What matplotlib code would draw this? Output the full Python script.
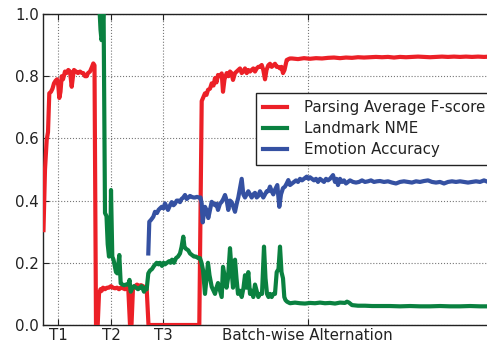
import matplotlib
matplotlib.use("Agg")
import matplotlib.pyplot as plt

# ---- data (x = training step, arbitrary units) ----
parsing_x = [43.5, 45, 46.7, 48, 49.3, 51, 52.5, 54, 55.5, 57, 58.3, 59.3, 60.5, 61.7, 63, 65, 66.5, 68.3, 70,
             71.7, 73, 74, 76, 78, 80, 82, 83.3, 85, 86.7, 88, 90, 92, 93.3, 94.5, 96, 97.7, 99, 100.5, 101.7,
             103, 105, 107, 109, 111, 113, 115, 117, 119, 121, 123, 125, 127, 128.3, 130, 131.5, 133, 135, 137,
             139, 141, 143, 145, 146.7, 148.5, 199.3, 201.7, 203, 205, 206.5, 208, 210, 211.7, 213.5, 215, 216.5,
             218, 220, 221.7, 223, 224.5, 226.7, 228.5, 230, 231.5, 233, 235, 236.7, 238.5, 240, 241.7, 243.3,
             245, 246.7, 248.3, 250, 251.7, 253.3, 255, 256.7, 258.3, 260, 261.7, 263.3, 265, 266.5, 268.3, 270,
             271.7, 273.3, 275, 276.7, 278.3, 280, 281.5, 283, 284.5, 286.7, 288.5, 290, 292, 298, 304, 310, 316,
             322, 328, 334, 340, 346, 352, 358, 364, 370, 376, 382, 388, 394, 400, 406, 412, 418, 424, 430, 436,
             442, 448, 454, 460, 466, 472, 478, 484, 490, 496]
parsing_y = [0.305, 0.50, 0.595, 0.62, 0.745, 0.75, 0.76, 0.777, 0.785, 0.79, 0.77, 0.73, 0.75, 0.80, 0.79, 0.815,
             0.81, 0.82, 0.815, 0.766, 0.80, 0.82, 0.815, 0.81, 0.815, 0.81, 0.81, 0.80, 0.80, 0.81, 0.815, 0.83,
             0.841, 0.835, 0.0, 0.0, 0.10, 0.115, 0.11, 0.12, 0.115, 0.12, 0.12, 0.125, 0.12, 0.118, 0.12, 0.115,
             0.12, 0.118, 0.115, 0.12, 0.115, 0.0, 0.0, 0.12, 0.125, 0.13, 0.125, 0.128, 0.125, 0.12, 0.115, 0.0,
             0.0, 0.72, 0.73, 0.745, 0.74, 0.756, 0.76, 0.777, 0.77, 0.794, 0.78, 0.804, 0.80, 0.809, 0.75, 0.79,
             0.81, 0.80, 0.815, 0.81, 0.788, 0.81, 0.815, 0.82, 0.825, 0.81, 0.815, 0.825, 0.81, 0.82, 0.815, 0.82,
             0.825, 0.815, 0.825, 0.83, 0.83, 0.836, 0.82, 0.79, 0.82, 0.835, 0.84, 0.83, 0.835, 0.84, 0.83, 0.83,
             0.825, 0.83, 0.81, 0.82, 0.852, 0.855, 0.857, 0.857, 0.855, 0.858, 0.856, 0.858, 0.857, 0.859, 0.86,
             0.858, 0.86, 0.859, 0.861, 0.86, 0.861, 0.862, 0.861, 0.862, 0.86, 0.862, 0.861, 0.862, 0.863, 0.862,
             0.861, 0.862, 0.863, 0.862, 0.863, 0.862, 0.863, 0.862, 0.863, 0.862, 0.863, 0.863]

landmark_x = [94.5, 97, 99, 100.5, 101.5, 102.5, 103.5, 104.5, 105, 106.5, 107.7, 109, 110.5, 111, 112.3, 113.5,
              115, 116, 117.3, 118.5, 119.3, 120.7, 122.5, 124, 126, 128.3, 129.5, 130.7, 132.5, 134, 136, 138,
              140, 141.7, 143, 144, 145.5, 146.7, 148.3, 150, 152, 154, 156.7, 158.5, 160, 162, 163.5, 165, 167,
              169, 170.5, 172, 174, 176, 178, 180, 181.5, 183.3, 184.5, 186, 188.3, 190, 192, 194, 196, 198.3,
              200, 201.5, 203, 205, 206.5, 208, 209.5, 211.7, 213.5, 215, 216.5, 218, 220, 221.7, 223, 224.5,
              226.5, 228, 230, 231.5, 233, 235, 236.5, 238, 240, 241.7, 243.5, 245, 246.5, 248.3, 250, 251.7,
              253.3, 255, 256.7, 258.3, 260, 262, 264, 265.5, 267, 268.5, 270, 271.7, 273.3, 275, 276.7, 278.5,
              280, 281.5, 283, 284.3, 285.5, 287, 290, 295, 300, 305, 310, 315, 320, 325, 330, 335, 340, 345,
              347, 349, 352, 358, 365, 372, 380, 390, 400, 410, 420, 430, 440, 450, 460, 470, 480, 490, 496]
landmark_y = [1.10, 1.08, 1.05, 0.95, 0.916, 0.93, 1.05, 0.60, 0.36, 0.35, 0.26, 0.22, 0.30, 0.434, 0.22, 0.21,
              0.187, 0.17, 0.166, 0.20, 0.225, 0.134, 0.13, 0.128, 0.13, 0.13, 0.145, 0.107, 0.12, 0.125, 0.12,
              0.115, 0.12, 0.125, 0.115, 0.107, 0.12, 0.115, 0.166, 0.175, 0.18, 0.19, 0.20, 0.195, 0.20, 0.19,
              0.20, 0.195, 0.20, 0.205, 0.20, 0.21, 0.20, 0.215, 0.22, 0.23, 0.25, 0.284, 0.25, 0.245, 0.24, 0.23,
              0.225, 0.22, 0.22, 0.215, 0.215, 0.20, 0.177, 0.10, 0.15, 0.20, 0.16, 0.123, 0.11, 0.10, 0.12, 0.135,
              0.11, 0.09, 0.187, 0.16, 0.12, 0.15, 0.247, 0.18, 0.12, 0.21, 0.15, 0.10, 0.11, 0.09, 0.12, 0.16,
              0.12, 0.17, 0.10, 0.11, 0.09, 0.13, 0.11, 0.09, 0.10, 0.10, 0.252, 0.15, 0.10, 0.09, 0.10, 0.09,
              0.10, 0.10, 0.17, 0.18, 0.252, 0.17, 0.15, 0.09, 0.08, 0.075, 0.07, 0.072, 0.07, 0.069, 0.071,
              0.07, 0.072, 0.07, 0.071, 0.069, 0.072, 0.071, 0.075, 0.072, 0.064, 0.062, 0.062, 0.061, 0.061,
              0.061, 0.060, 0.061, 0.060, 0.060, 0.061, 0.060, 0.060, 0.061, 0.060, 0.060, 0.060]

emotion_x = [148.3, 149.3, 151, 153.3, 155, 157, 158.5, 160, 161.7, 163.5, 165, 166.5, 168, 170, 171.7, 173.5,
             175, 176.7, 178.3, 180, 181.5, 183.3, 185, 186.7, 188.3, 190, 191.7, 193.5, 195, 197, 199, 200.5,
             201.7, 202.7, 204, 205, 206.5, 208.3, 210, 211.7, 213.5, 215, 216.5, 218, 220, 221.7, 223.3, 225,
             226.7, 228.3, 230, 231.7, 233.3, 235, 236.7, 238.3, 240, 241.7, 243.3, 245, 246.7, 248.3, 250,
             251.7, 253.3, 255, 256.7, 258.3, 260, 261.7, 263.3, 265, 266.7, 268.3, 270, 271.7, 273.3, 275,
             277.3, 279.3, 281, 283, 285, 286.7, 288.3, 290, 292, 294, 296, 298, 300, 302, 304, 306.7, 308.5,
             310, 312, 314, 316, 318, 320, 322, 324, 326, 328, 330, 333, 335, 336.5, 338, 340, 342, 344, 346,
             348, 350, 353, 356, 359, 362, 365, 368, 371, 374, 377, 380, 384, 388, 392, 396, 400, 404, 408,
             412, 416, 420, 424, 428, 432, 436, 440, 444, 448, 452, 456, 460, 464, 468, 472, 476, 480, 484,
             488, 496]
emotion_y = [0.23, 0.332, 0.338, 0.348, 0.364, 0.36, 0.37, 0.375, 0.38, 0.375, 0.391, 0.38, 0.37, 0.385, 0.395,
             0.385, 0.39, 0.40, 0.40, 0.395, 0.405, 0.41, 0.418, 0.405, 0.41, 0.415, 0.412, 0.41, 0.41, 0.412,
             0.41, 0.41, 0.39, 0.33, 0.36, 0.38, 0.37, 0.344, 0.37, 0.396, 0.39, 0.385, 0.39, 0.37, 0.39, 0.396,
             0.405, 0.418, 0.40, 0.37, 0.40, 0.395, 0.38, 0.364, 0.39, 0.41, 0.44, 0.47, 0.42, 0.41, 0.42, 0.43,
             0.42, 0.41, 0.42, 0.425, 0.41, 0.415, 0.43, 0.42, 0.41, 0.42, 0.43, 0.43, 0.445, 0.43, 0.42, 0.435,
             0.45, 0.38, 0.42, 0.44, 0.445, 0.455, 0.466, 0.45, 0.455, 0.46, 0.465, 0.46, 0.47, 0.465, 0.47,
             0.477, 0.47, 0.475, 0.47, 0.465, 0.47, 0.46, 0.47, 0.465, 0.46, 0.47, 0.465, 0.47, 0.482, 0.46,
             0.47, 0.45, 0.47, 0.46, 0.465, 0.455, 0.46, 0.465, 0.46, 0.458, 0.46, 0.465, 0.46, 0.462, 0.465,
             0.46, 0.462, 0.463, 0.46, 0.462, 0.458, 0.455, 0.46, 0.462, 0.46, 0.458, 0.462, 0.46, 0.463, 0.465,
             0.46, 0.458, 0.46, 0.455, 0.46, 0.462, 0.46, 0.462, 0.46, 0.458, 0.46, 0.462, 0.46, 0.465, 0.46,
             0.46]

tick_positions = [58.3, 111, 163.3, 307.7]
tick_labels = ["T1", "T2", "T3", "Batch-wise Alternation"]
series_labels = ["Parsing Average F-score", "Landmark NME", "Emotion Accuracy"]
colors = ["#ec2027", "#0a8140", "#3551a2"]

# ---- figure ----
W, H = 487, 343
fig = plt.figure(figsize=(W / 100, H / 100), dpi=100)
ax = fig.add_axes([43 / W, 1 - 325 / H, (497 - 43) / W, (325 - 14) / H])

lw = 3.0
ax.plot(parsing_x, parsing_y, color=colors[0], lw=lw, label=series_labels[0], zorder=3)
ax.plot(landmark_x, landmark_y, color=colors[1], lw=lw, label=series_labels[1], zorder=3)
ax.plot(emotion_x, emotion_y, color=colors[2], lw=lw, label=series_labels[2], zorder=3)

ax.set_xlim(43, 497)
ax.set_ylim(0, 1.0)
ax.set_xticks(tick_positions)
ax.set_xticklabels(tick_labels)
ax.set_yticks([0.0, 0.2, 0.4, 0.6, 0.8, 1.0])
ax.set_yticklabels(["0.0", "0.2", "0.4", "0.6", "0.8", "1.0"])

txt = "#222222"
ax.tick_params(direction="in", top=True, right=True, length=4, width=0.8,
               labelsize=10.8, labelcolor=txt, color="#222222")
ax.tick_params(axis="x", pad=2)
ax.tick_params(axis="y", pad=3)
ax.grid(True, color="#777777", linestyle=":", linewidth=0.8, zorder=0)
ax.set_axisbelow(True)
for s in ax.spines.values():
    s.set_linewidth(1.0)
    s.set_color("#222222")

leg = ax.legend(loc="upper left", bbox_to_anchor=(0.469, 0.746), borderaxespad=0,
                fontsize=10.8, frameon=True, fancybox=False, framealpha=1,
                edgecolor="#222222", borderpad=0.5, labelspacing=0.4,
                handlelength=1.6, handletextpad=1.1)
leg.get_frame().set_linewidth(1.0)
for t in leg.get_texts():
    t.set_color(txt)

fig.savefig("out.png", dpi=100)
